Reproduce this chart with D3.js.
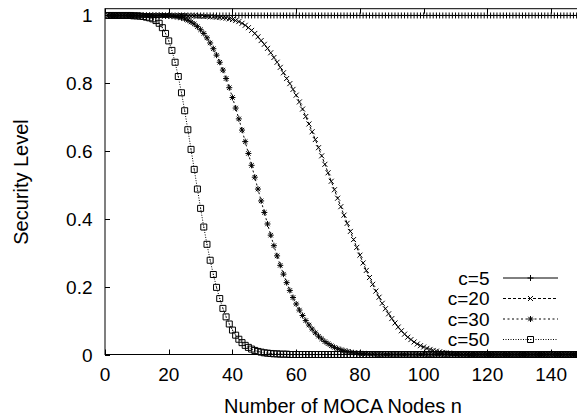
<!DOCTYPE html>
<html>
<head>
<meta charset="utf-8">
<script src="https://cdn.jsdelivr.net/npm/d3@7"></script>
<style>
  body { margin: 0; background: #fff; }
  svg { display: block; font-family: "Liberation Sans", Arial, sans-serif; }
</style>
</head>
<body>
<div id="chart"></div>
<script>
// values, one per MOCA node count n = 1..150
const c5 = [
  1,1,1,1,1,1,1,1,1,1, 1,1,1,1,1,1,1,1,1,1, 1,1,1,1,1,1,1,1,1,1,
  1,1,1,1,1,1,1,1,1,1, 1,1,1,1,1,1,1,1,1,1, 1,1,1,1,1,1,1,1,1,1,
  1,1,1,1,1,1,1,1,1,1, 1,1,1,1,1,1,1,1,1,1, 1,1,1,1,1,1,1,1,1,1,
  1,1,1,1,1,1,1,1,1,1, 1,1,1,1,1,1,1,1,1,1, 1,1,1,1,1,1,1,1,1,1,
  1,1,1,1,1,1,1,1,1,1, 1,1,1,1,1,1,1,1,1,1, 1,1,1,1,1,1,1,1,1,1
];
const c20 = [
  1,1,1,1,1,1,1,1,1,1,
  1,1,1,1,1,1,1,1,1,1,
  1,1,1,1,1,.999,.999,.999,.998,.998,
  .997,.997,.996,.996,.995,.994,.993,.992,.99,.988,
  .985,.982,.977,.971,.964,.956,.947,.937,.926,.915,
  .903,.89,.876,.862,.847,.831,.814,.799,.782,.765,
  .745,.724,.702,.68,.657,.634,.61,.586,.561,.536,
  .511,.486,.461,.436,.411,.387,.363,.339,.316,.293,
  .27,.248,.227,.207,.187,.169,.151,.135,.12,.106,
  .093,.081,.07,.06,.051,.044,.037,.031,.026,.022,
  .018,.015,.012,.01,.008,.006,.005,.004,.003,.002,
  .002,.001,.001,.001,0,0,0,0,0,0,
  0,0,0,0,0,0,0,0,0,0,
  0,0,0,0,0,0,0,0,0,0,
  0,0,0,0,0,0,0,0,0,0
];
const c30 = [
  1,1,1,1,1,1,1,1,1,1,
  1,1,1,1,1,1,1,1,.999,.999,
  .998,.997,.995,.993,.99,.986,.981,.975,.967,.958,
  .947,.934,.919,.902,.883,.862,.839,.814,.787,.758,
  .727,.695,.662,.628,.593,.558,.523,.488,.453,.419,
  .385,.352,.321,.291,.263,.237,.212,.189,.168,.149,
  .131,.115,.1,.087,.075,.064,.054,.046,.038,.032,
  .026,.021,.017,.014,.011,.009,.007,.005,.004,.003,
  .002,.002,.001,.001,0,0,0,0,0,0,
  0,0,0,0,0,0,0,0,0,0,
  0,0,0,0,0,0,0,0,0,0,
  0,0,0,0,0,0,0,0,0,0,
  0,0,0,0,0,0,0,0,0,0,
  0,0,0,0,0,0,0,0,0,0,
  0,0,0,0,0,0,0,0,0,0
];
const c50 = [
  1,1,1,1,1,1,1,1,.999,.999,
  .998,.997,.995,.993,.99,.985,.977,.964,.947,.925,
  .897,.862,.82,.772,.719,.663,.605,.546,.488,.431,
  .376,.325,.278,.236,.198,.165,.136,.111,.09,.072,
  .057,.045,.035,.027,.021,.016,.012,.009,.007,.005,
  .004,.003,.002,.002,.001,.001,.001,0,0,0,
  0,0,0,0,0,0,0,0,0,0,
  0,0,0,0,0,0,0,0,0,0,
  0,0,0,0,0,0,0,0,0,0,
  0,0,0,0,0,0,0,0,0,0,
  0,0,0,0,0,0,0,0,0,0,
  0,0,0,0,0,0,0,0,0,0,
  0,0,0,0,0,0,0,0,0,0,
  0,0,0,0,0,0,0,0,0,0,
  0,0,0,0,0,0,0,0,0,0
];
const seriesLabels = ['c=5', 'c=20', 'c=30', 'c=50'];
const xTicks = [0, 20, 40, 60, 80, 100, 120, 140];
const yTicks = [0, 0.2, 0.4, 0.6, 0.8, 1];

const width = 577, height = 417;
const plot = { left: 105, right: 583, top: 8.7, bottom: 354.5 };

const xScale = d3.scaleLinear().domain([0, 150]).range([plot.left, plot.right]);
const yScale = d3.scaleLinear().domain([0, 1.02]).range([plot.bottom, plot.top]);

const svg = d3.select('#chart').append('svg')
  .attr('width', width)
  .attr('height', height);

svg.append('rect').attr('width', width).attr('height', height).attr('fill', '#fff');

svg.append('defs').append('clipPath').attr('id', 'clip')
  .append('rect')
  .attr('x', plot.left).attr('y', plot.top - 4)
  .attr('width', plot.right - plot.left).attr('height', plot.bottom - plot.top + 8);

// gnuplot-like point types
const markers = [
  'M-3,0H3M0,-3V3',
  'M-2.5,-2.5L2.5,2.5M-2.5,2.5L2.5,-2.5',
  'M-3,0H3M0,-3V3M-2.2,-2.2L2.2,2.2M-2.2,2.2L2.2,-2.2',
  'M-3,-3H3V3H-3ZM-0.5,0H0.5'
];
const dashes = [null, '3,2', '2,2.5', '1,1.5'];
const allSeries = [c5, c20, c30, c50];

// borders + ticks (mirrored, pointing inward)
const axisG = svg.append('g').attr('stroke', '#000').attr('stroke-width', 1);
axisG.append('rect')
  .attr('x', plot.left).attr('y', plot.top)
  .attr('width', plot.right - plot.left).attr('height', plot.bottom - plot.top)
  .attr('fill', 'none');

xTicks.forEach(t => {
  const x = Math.round(xScale(t)) + 0.5;
  axisG.append('line').attr('x1', x).attr('x2', x).attr('y1', plot.bottom).attr('y2', plot.bottom - 5);
  axisG.append('line').attr('x1', x).attr('x2', x).attr('y1', plot.top).attr('y2', plot.top + 5);
});
yTicks.forEach(t => {
  const y = Math.round(yScale(t)) + 0.5;
  axisG.append('line').attr('x1', plot.left).attr('x2', plot.left + 5).attr('y1', y).attr('y2', y);
});

// tick labels
svg.append('g').selectAll('text').data(xTicks).enter().append('text')
  .attr('x', d => xScale(d))
  .attr('y', 381)
  .attr('text-anchor', 'middle')
  .attr('font-size', 19)
  .text(d => d);
svg.append('g').selectAll('text').data(yTicks).enter().append('text')
  .attr('x', 92.5)
  .attr('y', d => yScale(d) + 7)
  .attr('text-anchor', 'end')
  .attr('font-size', 19)
  .text(d => d);

// axis titles
svg.append('text')
  .attr('x', 343).attr('y', 412.5)
  .attr('text-anchor', 'middle')
  .attr('font-size', 20)
  .text('Number of MOCA Nodes n');
svg.append('text')
  .attr('transform', 'translate(27.5,182) rotate(-90)')
  .attr('text-anchor', 'middle')
  .attr('font-size', 20)
  .text('Security Level');

// curves
const line = d3.line()
  .x((d, i) => xScale(i + 1))
  .y(d => yScale(d));

const plotG = svg.append('g').attr('clip-path', 'url(#clip)');
allSeries.forEach((vals, k) => {
  plotG.append('path')
    .datum(vals)
    .attr('fill', 'none')
    .attr('stroke', '#000')
    .attr('stroke-width', 1)
    .attr('stroke-dasharray', dashes[k])
    .attr('d', line);
  plotG.append('g').selectAll('path').data(vals).enter().append('path')
    .attr('transform', (d, i) => `translate(${xScale(i + 1)},${yScale(d)})`)
    .attr('d', markers[k])
    .attr('fill', 'none')
    .attr('stroke', '#000')
    .attr('stroke-width', 1);
});

// legend (gnuplot key, no box)
const legend = svg.append('g').selectAll('g').data(seriesLabels).enter().append('g')
  .attr('transform', (d, i) => `translate(0,${277.5 + i * 20.5})`);
legend.append('text')
  .attr('x', 489.5).attr('y', 7)
  .attr('text-anchor', 'end')
  .attr('font-size', 19)
  .text(d => d);
legend.append('line')
  .attr('x1', 503).attr('x2', 558).attr('y1', 0.5).attr('y2', 0.5)
  .attr('stroke', '#000')
  .attr('stroke-dasharray', (d, i) => dashes[i]);
legend.append('path')
  .attr('transform', 'translate(530.5,0.5)')
  .attr('d', (d, i) => markers[i])
  .attr('fill', 'none')
  .attr('stroke', '#000');
</script>
</body>
</html>
